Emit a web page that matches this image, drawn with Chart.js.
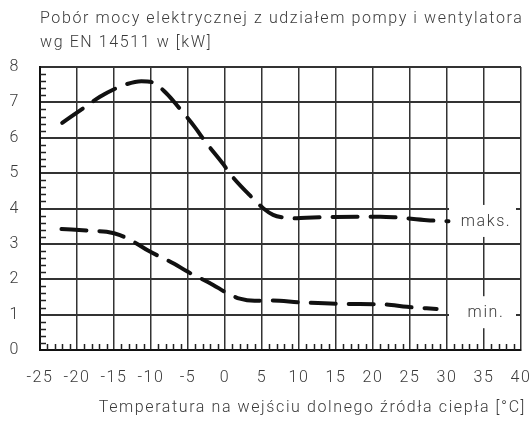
<!DOCTYPE html>
<html>
<head>
<meta charset="utf-8">
<script src="https://cdn.jsdelivr.net/npm/chart.js@4.4.0/dist/chart.umd.min.js"></script>
<style>
  html, body { margin: 0; padding: 0; background: #fff; }
  #wrap { width: 532px; height: 423px; }
</style>
</head>
<body>
<div id="wrap"><canvas id="myChart" width="532" height="423"></canvas></div>
<script>
// Dane
const tytulLinie = ['Pobór mocy elektrycznej z udziałem pompy i wentylatora', 'wg EN 14511 w [kW]'];
const tytulOsiX = 'Temperatura na wejściu dolnego źródła ciepła [°C]';

const tempMaks = [-22, -18.7, -16.9, -13.5, -11.3, -9.7, -7.9, -6.5, -4, -2.7, -0.3, 1, 3.7, 5.2, 6.5, 8, 9, 11, 15, 21, 23, 27.3, 30.2];
const mocMaks  = [6.42, 6.90, 7.16, 7.50, 7.60, 7.56, 7.25, 6.92, 6.28, 5.90, 5.27, 4.90, 4.30, 4.0, 3.82, 3.74, 3.72, 3.74, 3.76, 3.77, 3.75, 3.67, 3.64];

const tempMin = [-22.1, -18, -16, -14.2, -12.2, -10.4, -6.8, -5.2, -1.6, 0.2, 2, 4, 6.3, 10.1, 16.4, 21.4, 24.6, 28.6];
const mocMin  = [3.42, 3.37, 3.34, 3.25, 3.04, 2.81, 2.43, 2.23, 1.84, 1.62, 1.45, 1.39, 1.40, 1.35, 1.30, 1.29, 1.22, 1.16];

// etykiety serii: [tekst, x, y]
const etykiety = [['maks.', 35, 3.62], ['min.', 35, 1.04]];

const FONT = '"Roboto", "Liberation Sans", sans-serif';
const ROZSTAW = '1.6px';
const KOLOR_TEKSTU = '#3a3a3a';
const KOLOR_SIATKI = '#333';

const pts = (xs, ys) => xs.map((x, i) => ({ x: x, y: ys[i] }));

const dodatki = {
  id: 'dodatki',
  beforeDraw(chart) {
    const c = chart.ctx;
    c.fillStyle = '#fff';
    c.fillRect(0, 0, chart.width, chart.height);
    c.letterSpacing = ROZSTAW;
  },
  beforeDatasetsDraw(chart) {
    const { ctx, chartArea: a, scales: { x, y } } = chart;
    ctx.save();
    ctx.strokeStyle = '#222';
    ctx.lineWidth = 1.5;
    ctx.beginPath();
    // drobne podziałki osi X co 1 stopień
    for (let t = -25; t <= 40; t++) {
      if (t % 5 === 0) continue;
      const px = Math.round(x.getPixelForValue(t)) + 0.5;
      ctx.moveTo(px, a.bottom);
      ctx.lineTo(px, a.bottom - 6);
    }
    // drobne podziałki osi Y co 0.2
    for (let k = 0; k <= 40; k++) {
      if (k % 5 === 0) continue;
      const py = Math.round(y.getPixelForValue(k / 5)) + 0.5;
      ctx.moveTo(a.left, py);
      ctx.lineTo(a.left + 6, py);
    }
    ctx.stroke();

    // etykiety serii z białym tłem
    ctx.font = '300 16px ' + FONT;
    ctx.letterSpacing = ROZSTAW;
    ctx.textAlign = 'center';
    ctx.textBaseline = 'middle';
    etykiety.forEach(([txt, tx, ty]) => {
      const px = x.getPixelForValue(tx);
      const py = y.getPixelForValue(ty);
      ctx.fillStyle = '#fff';
      ctx.fillRect(px - 35, py - 17, 67, 32);
      ctx.fillStyle = KOLOR_TEKSTU;
      ctx.fillText(txt, px + 2, py);
    });

    // tytuł
    ctx.textAlign = 'left';
    ctx.fillText(tytulLinie[0], a.left, 19);
    ctx.fillText(tytulLinie[1], a.left, 43);

    // tytuł osi X
    ctx.textAlign = 'right';
    ctx.fillText(tytulOsiX, a.right + 5, 408);
    ctx.restore();
  },
  afterDraw(chart) {
    chart.ctx.letterSpacing = '0px';
  }
};

const ctx = document.getElementById('myChart').getContext('2d');
const serie = (dane) => ({
  data: dane,
  borderColor: '#111',
  borderWidth: 4,
  borderDash: [25, 13],
  borderCapStyle: 'round',
  pointRadius: 0,
  fill: false,
  tension: 0.4,
  cubicInterpolationMode: 'monotone'
});

new Chart(ctx, {
  type: 'line',
  data: {
    datasets: [serie(pts(tempMaks, mocMaks)), serie(pts(tempMin, mocMin))]
  },
  options: {
    responsive: false,
    animation: false,
    layout: { padding: { top: 67, right: 11, left: 0, bottom: 0 } },
    plugins: { legend: { display: false }, tooltip: { enabled: false }, title: { display: false } },
    scales: {
      x: {
        type: 'linear',
        min: -25, max: 40,
        border: { color: '#111', width: 2 },
        grid: { color: KOLOR_SIATKI, lineWidth: 1.5, drawTicks: false },
        ticks: { stepSize: 5, padding: 18, color: KOLOR_TEKSTU, font: { family: FONT, size: 16, weight: '300' }, maxRotation: 0 },
        afterFit: s => { s.height = 73; s.paddingLeft = 0; s.paddingRight = 0; }
      },
      y: {
        min: 0, max: 8,
        border: { color: '#111', width: 2 },
        grid: { color: KOLOR_SIATKI, lineWidth: 2, drawTicks: false },
        ticks: { stepSize: 1, padding: 20, color: KOLOR_TEKSTU, font: { family: FONT, size: 16, weight: '300' } },
        afterFit: s => { s.width = 40; s.paddingTop = 0; s.paddingBottom = 0; }
      }
    }
  },
  plugins: [dodatki]
});
</script>
</body>
</html>
